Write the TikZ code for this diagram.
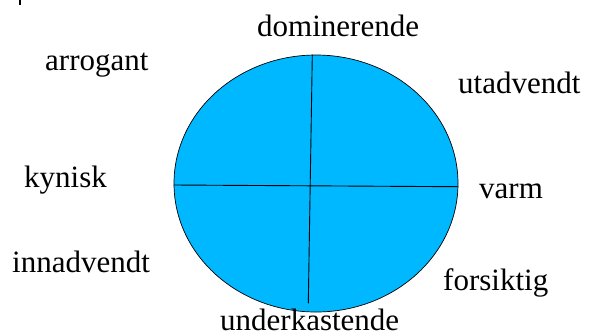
\documentclass[tikz,border=0pt]{standalone}
\usepackage{fontspec}
\setmainfont{Liberation Serif}
\definecolor{cirkelblaa}{RGB}{0,184,255}
\begin{document}
\begin{tikzpicture}[x=1pt, y=-1pt, line cap=round, line join=round, font=\fontsize{31}{36}\selectfont]
	\useasboundingbox (0,0) rectangle (589,333);
	\tikzset{ord/.style={anchor=base west, inner sep=0pt}}
	\def\rx{142pt} % halvakser for ellipsen
	\def\ry{128.5pt}
	\coordinate (S) at (316,183.5);
	\fill[cirkelblaa, draw=black, line width=0.7pt] (S) ellipse [x radius=\rx, y radius=\ry];
	% aksene
	\coordinate (V1) at (312.3,55);
	\coordinate (V2) at (308.3,303);
	\coordinate (H1) at (174,185);
	\coordinate (H2) at (458,186.7);
	\draw[line width=0.9pt] (V1) -- (V2);
	\draw[line width=0.9pt] (H1) -- (H2);
	% liten strek oppe til venstre
	\coordinate (T1) at (20,0);
	\coordinate (T2) at (20,5);
	\draw[line width=2pt, line cap=butt] (T1) -- (T2);
	% ordene rundt
	\node[ord] (dom) at (257,36) {dominerende};
	\node[ord] (arr) at (45,70) {arrogant};
	\node[ord] (uta) at (458,93) {utadvendt};
	\node[ord] (kyn) at (24,187) {kynisk};
	\node[ord] (var) at (479,198) {varm};
	\node[ord] (inn) at (12,272) {innadvendt};
	\node[ord] (for) at (443,290) {forsiktig};
	\node[ord] (und) at (220,330) {underkastende};
\end{tikzpicture}
\end{document}
